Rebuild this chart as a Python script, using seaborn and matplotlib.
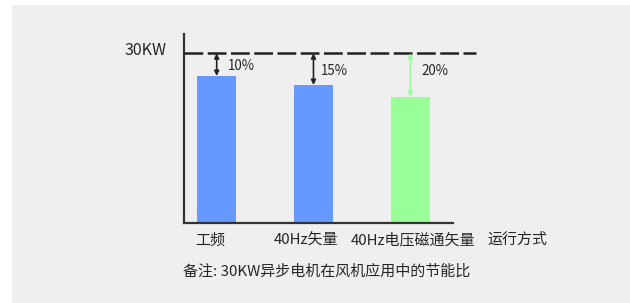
import matplotlib
matplotlib.use("Agg")
import matplotlib.pyplot as plt
import matplotlib.transforms as mtransforms
import seaborn as sns
import pandas as pd
from matplotlib.patches import Rectangle

# ---- data ----
categories = ["工频", "40Hz矢量", "40Hz电压磁通矢量"]
power_kw = [26.0, 24.4, 22.3]
savings_labels = ["10%", "15%", "20%"]
reference_kw = 30
reference_label = "30KW"
x_title = "运行方式"
caption = "备注: 30KW异步电机在风机应用中的节能比"

bar_colors = ["#6699ff", "#6699ff", "#99ff99"]
arrow_colors = ["#222222", "#222222", "#99ff99"]
label_drop = [2.3, 3.1, 3.1]
label_dx = [0.12, 0.08, 0.12]
tick_shift_px = [-6.5, -7.5, 3.0]
text_color = "#262626"
bg = "#efefef"

df = pd.DataFrame({"mode": categories, "kw": power_kw})

sns.set_theme(style="white")
plt.rcParams["font.family"] = ["Noto Sans CJK SC", "DejaVu Sans"]

W, H = 630, 303
fig = plt.figure(figsize=(W / 100, H / 100), dpi=100)
fig.patch.set_facecolor("white")
fig.patches.append(Rectangle((12 / W, 0), 1 - 12 / W, 1 - 5 / H,
                             transform=fig.transFigure, facecolor=bg,
                             edgecolor="none", zorder=-10))

left, right = 184 / W, 453 / W
bottom, top = 1 - 223.3 / H, 1 - 34 / H
ax = fig.add_axes([left, bottom, right - left, top - bottom])
ax.set_facecolor("none")

sns.barplot(data=df, x="mode", y="kw", hue="mode", palette=bar_colors,
            legend=False, width=0.40, ax=ax, saturation=1, linewidth=0)

ax.set_xlim(-0.338, 2.442)
ax.set_ylim(0, 33.4)

for s in ["top", "right"]:
    ax.spines[s].set_visible(False)
for s in ["left", "bottom"]:
    ax.spines[s].set_color("#333333")
    ax.spines[s].set_linewidth(1.6)

ax.set_yticks([])
ax.set_xlabel("")
ax.set_ylabel("")
ax.tick_params(axis="x", length=0, pad=7, labelsize=10.8, labelcolor=text_color)
for lbl, dx in zip(ax.get_xticklabels(), tick_shift_px):
    lbl.set_transform(lbl.get_transform() +
                      mtransforms.ScaledTranslation(dx / 100, 0, fig.dpi_scale_trans))

# reference dashed line (extends beyond the x axis end)
ax.plot([-0.338, 2.68], [reference_kw, reference_kw], color="#222222",
        lw=1.8, dashes=(7.5, 1.8), clip_on=False, zorder=3)
fig.text(145.5 / W, 1 - 50.5 / H, reference_label, ha="center", va="center",
         fontsize=11.5, color=text_color)

for i, (v, lab, ac) in enumerate(zip(power_kw, savings_labels, arrow_colors)):
    ax.annotate("", xy=(i, v), xytext=(i, reference_kw),
                arrowprops=dict(arrowstyle="<|-|>", color=ac, lw=1.2,
                                mutation_scale=7, shrinkA=0, shrinkB=0))
    ax.text(i + label_dx[i], reference_kw - label_drop[i], lab,
            ha="left", va="center", fontsize=9.6, color=text_color)

fig.text(517 / W, 1 - 239.3 / H, x_title, ha="center", va="center",
         fontsize=10.8, color=text_color)
fig.text(327 / W, 1 - 271.7 / H, caption, ha="center", va="center",
         fontsize=10.8, color=text_color)

fig.savefig("out.png", dpi=100, facecolor="white")
